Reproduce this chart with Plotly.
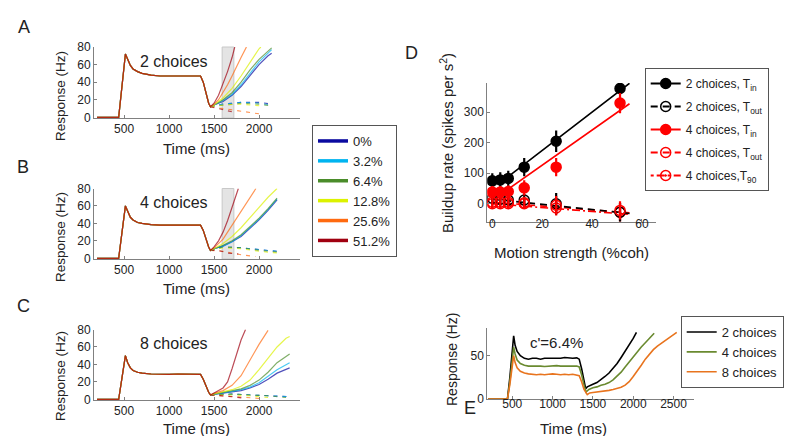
import plotly.graph_objects as go

W, H = 800, 436
FONT = "Liberation Sans, Arial, sans-serif"
AXC = "#808080"
TXT = "#222222"

# ---------------- Panels A-C : model responses ----------------
coh_labels = ["0%", "3.2%", "6.4%", "12.8%", "25.6%", "51.2%"]
coh_colors = ["#0a0aa0", "#00b4f0", "#4a8c2a", "#dcf200", "#ff6a10", "#a00010"]

pre_t = [200, 440, 515, 540, 570, 600, 650, 700, 800, 900, 1000, 1100, 1200, 1300, 1350, 1380, 1410, 1440, 1460]
A_pre = [0, 0, 72, 65, 59, 55, 52, 50, 48, 47, 47, 47.5, 47, 47, 47, 40, 28, 16, 12]
B_pre = [0, 0, 60, 53, 47, 44, 41, 40, 38.5, 38, 38, 38, 38, 38, 38, 32, 22, 13, 9]
C_pre = [0, 0, 50, 42, 36, 33, 31, 30, 29, 28.5, 28.5, 29, 28.5, 28.5, 28.5, 23, 15, 8, 5]

A_in_t = [[1500, 1600, 1700, 1800, 1900, 2000, 2100, 2140],
          [1500, 1600, 1700, 1800, 1900, 2000, 2100, 2140],
          [1500, 1600, 1700, 1800, 1900, 2000, 2100, 2140],
          [1500, 1600, 1700, 1800, 1900, 2000, 2020],
          [1500, 1550, 1600, 1650, 1700, 1750, 1800, 1860],
          [1500, 1550, 1600, 1650, 1700, 1730]]
A_in_v = [[14, 18, 25, 35, 48, 60, 70, 73],
          [14, 19, 26, 37, 50, 63, 73, 77],
          [14, 20, 28, 40, 54, 66, 76, 79],
          [14, 22, 33, 47, 63, 78, 80],
          [15, 20, 28, 37, 47, 58, 68, 80],
          [16, 25, 38, 52, 68, 80]]
A_out_t = [[1460, 1600, 1800, 2000, 2140],
           [1460, 1600, 1800, 2000, 2140],
           [1460, 1600, 1800, 2000, 2140],
           [1460, 1600, 1800, 2020],
           [1460, 1600, 1750, 1900, 2000],
           [1460, 1550, 1650, 1750]]
A_out_v = [[12, 15, 17, 17, 15],
           [12, 15, 17, 16, 14],
           [12, 14, 16, 15, 13],
           [12, 14, 15, 13],
           [12, 10, 7, 5, 4],
           [12, 10, 7, 5]]

B_in_t = [[1500, 1600, 1700, 1800, 1900, 2000, 2100, 2200],
          [1500, 1600, 1700, 1800, 1900, 2000, 2100, 2200],
          [1500, 1600, 1700, 1800, 1900, 2000, 2100, 2200],
          [1500, 1600, 1700, 1800, 1900, 2000, 2100, 2200],
          [1500, 1600, 1700, 1800, 1900, 1965],
          [1500, 1550, 1600, 1650, 1700, 1770]]
B_in_v = [[11, 14, 19, 25, 34, 44, 55, 67],
          [11, 14, 19, 26, 35, 45, 56, 68],
          [11, 15, 20, 27, 36, 46, 57, 69],
          [11, 17, 25, 35, 47, 58, 70, 80],
          [12, 22, 38, 55, 70, 80],
          [13, 20, 30, 43, 58, 80]]
B_out_t = [[1460, 1600, 1800, 2000, 2200],
           [1460, 1600, 1800, 2000, 2200],
           [1460, 1600, 1800, 2000, 2200],
           [1460, 1600, 1800, 2000, 2200],
           [1460, 1600, 1700, 1800, 1960],
           [1460, 1550, 1650, 1770]]
B_out_v = [[9, 13, 12, 10, 8],
           [9, 13, 12, 10, 8],
           [9, 13, 12, 9, 7],
           [9, 12, 11, 8, 6],
           [9, 8, 6, 4, 2],
           [9, 9, 6, 5]]

C_in_t = [[1600, 1700, 1800, 1900, 2000, 2100, 2200, 2340],
          [1600, 1700, 1800, 1900, 2000, 2100, 2200, 2340],
          [1600, 1700, 1800, 1900, 2000, 2100, 2200, 2340],
          [1600, 1700, 1800, 1900, 2000, 2100, 2200, 2300, 2340],
          [1500, 1600, 1700, 1800, 1900, 2000, 2100],
          [1500, 1550, 1600, 1650, 1700, 1750, 1800, 1850]]
C_in_v = [[7, 8, 10, 13, 17, 23, 30, 36],
          [7, 9, 11, 14, 19, 26, 34, 42],
          [8, 10, 12, 16, 22, 31, 42, 52],
          [8, 11, 15, 22, 34, 47, 60, 70, 72],
          [7, 10, 16, 27, 45, 63, 79],
          [7, 10, 13, 20, 35, 52, 68, 80]]
C_out_t = [[1460, 1700, 1900, 2100, 2340],
           [1460, 1700, 1900, 2100, 2340],
           [1460, 1700, 1900, 2100, 2300],
           [1460, 1700, 1900, 2100],
           [1460, 1600, 1800, 2000],
           [1460, 1600, 1700, 1850]]
C_out_v = [[5, 6, 5, 4, 3],
           [5, 6, 5, 4, 3],
           [5, 6, 5, 4, 2],
           [5, 5, 4, 2],
           [5, 4, 2, 1],
           [5, 4, 3, 1]]

shade_window = [1590, 1720]

# ---------------- Panel D : buildup rates ----------------
coh_d = [0, 3.2, 6.4, 12.8, 25.6, 51.2]
d2_in = [75, 78, 83, 120, 205, 378]
d2_in_err = [25, 25, 25, 30, 35, 20]
d2_out = [18, 15, 12, 12, 0, -28]
d2_out_err = [20, 20, 20, 20, 35, 30]
d4_in = [38, 38, 40, 52, 120, 330]
d4_in_err = [20, 20, 20, 25, 30, 33]
d4_out = [5, 5, 5, 3, -5, -22]
d4_out_err = [20, 20, 20, 20, 30, 30]
d4_90 = [0, 0, 0, 0, -14, -28]
d4_90_err = [15, 15, 15, 15, 25, 30]
fit_x = [0, 5, 55]
fit2_in = [75, 80, 395]
fit4_in = [38, 40, 328]
fitout_x = [0, 55]
fit2_out = [15, -32]
fit4_out = [5, -30]
fit4_90 = [0, -35]

# ---------------- Panel E : c'=6.4% ----------------
E_names = ["2 choices", "4 choices", "8 choices"]
E_colors = ["#000000", "#6a8a30", "#e8741e"]
E2_t = [200, 440, 470, 500, 517, 535, 560, 600, 650, 700, 750, 800, 850, 900, 950, 1000, 1050, 1100,
        1150, 1200, 1250, 1300, 1330, 1360, 1390, 1410, 1430, 1460, 1500, 1550, 1600, 1650, 1700, 1750,
        1800, 1850, 1900, 1950, 2000, 2040]
E2_v = [0, 0, 25, 55, 73, 62, 55, 50, 47, 46, 47, 47, 46, 47, 47, 47.5, 47, 47, 48, 47.5, 47, 47.5,
        46, 35, 20, 12, 14, 15, 17, 19, 22, 26, 30, 35, 41, 48, 55, 62, 70, 77]
E4_t = [200, 440, 470, 500, 517, 535, 560, 600, 650, 700, 750, 800, 850, 900, 950, 1000, 1050, 1100,
        1150, 1200, 1250, 1300, 1330, 1360, 1390, 1415, 1450, 1500, 1550, 1600, 1650, 1700, 1750, 1800,
        1850, 1900, 1950, 2000, 2050, 2100, 2150, 2200, 2260]
E4_v = [0, 0, 20, 45, 60, 52, 45, 41, 39, 38, 38, 38.5, 38, 37.5, 38, 38, 38.5, 38, 38, 38.5, 38, 38,
        37, 28, 16, 8, 11, 13, 14, 16, 17, 19, 22, 26, 31, 37, 43, 49, 55, 60, 65, 70, 76]
E8_t = [200, 440, 470, 500, 517, 535, 560, 600, 650, 700, 750, 800, 850, 900, 950, 1000, 1050, 1100,
        1150, 1200, 1250, 1300, 1330, 1360, 1390, 1430, 1460, 1500, 1550, 1600, 1650, 1700, 1750, 1800,
        1850, 1900, 1950, 2000, 2050, 2100, 2150, 2200, 2250, 2300, 2350, 2400, 2450, 2500, 2540]
E8_v = [0, 0, 17, 38, 50, 42, 36, 32, 30, 29, 28.5, 28, 28.5, 28, 28.5, 29, 28.5, 28, 28.5, 28, 28.5,
        28, 27, 20, 11, 5, 7, 7.5, 8, 8.5, 9.5, 10, 11, 12, 13.5, 16, 20, 26, 32, 39, 46, 52, 57, 61,
        64.5, 68, 71.5, 75, 77]

fig = go.Figure()

# Panels A-C traces
panels = [("x", "y", A_pre, A_in_t, A_in_v, A_out_t, A_out_v),
          ("x2", "y2", B_pre, B_in_t, B_in_v, B_out_t, B_out_v),
          ("x3", "y3", C_pre, C_in_t, C_in_v, C_out_t, C_out_v)]
for xa, ya, pre, in_t, in_v, out_t, out_v in panels:
    for i in range(6):
        fig.add_trace(go.Scatter(x=out_t[i], y=out_v[i], mode="lines", xaxis=xa, yaxis=ya,
                                 line=dict(color=coh_colors[i], width=1.1, dash="4px,5px"),
                                 opacity=0.7, showlegend=False, hoverinfo="skip"))
    for i in range(6):
        fig.add_trace(go.Scatter(x=pre_t + in_t[i], y=pre + in_v[i], mode="lines", xaxis=xa, yaxis=ya,
                                 line=dict(color=coh_colors[i], width=1.2),
                                 opacity=0.7, showlegend=False, hoverinfo="skip"))
for i in range(6):
    fig.add_trace(go.Scatter(x=[None], y=[None], mode="lines", name=coh_labels[i], legend="legend",
                             line=dict(color=coh_colors[i], width=3.5), xaxis="x", yaxis="y"))

# Panel D traces
def dpoints(y, err, color, symbol):
    fig.add_trace(go.Scatter(x=coh_d, y=y, mode="markers", xaxis="x4", yaxis="y4", showlegend=False,
                             marker=dict(color=color, size=10, symbol=symbol, line=dict(color=color, width=1.5)),
                             error_y=dict(type="data", array=err, visible=True, thickness=2.2, width=0, color=color)))

def dline(x, y, color, dash):
    fig.add_trace(go.Scatter(x=x, y=y, mode="lines", xaxis="x4", yaxis="y4", showlegend=False,
                             line=dict(color=color, width=1.6, dash=dash)))

dline(fitout_x, fit4_90, "#ff0000", "8px,3px,2px,3px")
dline(fitout_x, fit4_out, "#ff0000", "7px,5px")
dline(fitout_x, fit2_out, "#000000", "7px,5px")
dline(fit_x, fit2_in, "#000000", "solid")
dline(fit_x, fit4_in, "#ff0000", "solid")
dpoints(d4_90, d4_90_err, "#ff0000", "circle-open-dot")
dpoints(d2_out, d2_out_err, "#000000", "circle-open")
dpoints(d4_out, d4_out_err, "#ff0000", "circle-open")
dpoints(d2_in, d2_in_err, "#000000", "circle")
dpoints(d4_in, d4_in_err, "#ff0000", "circle")

d_leg = [("2 choices, T<sub>in</sub>", "#000000", "solid", "circle"),
         ("2 choices, T<sub>out</sub>", "#000000", "7px,5px", "circle-open"),
         ("4 choices, T<sub>in</sub>", "#ff0000", "solid", "circle"),
         ("4 choices, T<sub>out</sub>", "#ff0000", "7px,5px", "circle-open"),
         ("4 choices,T<sub>90</sub>", "#ff0000", "3px,3px,8px,3px", "circle-open-dot")]
for k, (nm, col, dash, sym) in enumerate(d_leg):
    fig.add_trace(go.Scatter(x=[None], y=[None], mode="lines+markers", name=nm, legend="legend2",
                             legendgroup="d%d" % k, xaxis="x4", yaxis="y4",
                             line=dict(color=col, width=2.2, dash=dash),
                             marker=dict(color=col, size=10, symbol=sym, line=dict(color=col, width=1.5))))

# Panel E traces
for nm, col, t, v in zip(E_names, E_colors, [E2_t, E4_t, E8_t], [E2_v, E4_v, E8_v]):
    fig.add_trace(go.Scatter(x=t, y=v, mode="lines", name=nm, legend="legend3", xaxis="x5", yaxis="y5",
                             line=dict(color=col, width=1.6)))

def px(x):
    return x / W

def py(y):
    return 1 - y / H

def xax(dom, rng, tv, anchor, stand):
    return dict(domain=dom, range=rng, tickvals=tv, anchor=anchor, showline=True, linecolor=AXC,
                linewidth=1, ticks="inside", ticklen=3, tickcolor=AXC, showgrid=False, zeroline=False,
                tickfont=dict(size=12, color=TXT), ticklabelstandoff=stand, automargin=False)

def yax(dom, rng, tv, anchor):
    return dict(domain=dom, range=rng, tickvals=tv, anchor=anchor, showline=True, linecolor=AXC,
                linewidth=1, ticks="inside", ticklen=3, tickcolor=AXC, showgrid=False, zeroline=False,
                tickfont=dict(size=12, color=TXT), automargin=False)

xdomABC = [px(86), px(292)]
xrABC = [166, 2455]
tvABC = [500, 1000, 1500, 2000]
yvABC = [0, 20, 40, 60, 80]

layout = dict(
    width=W, height=H, margin=dict(l=0, r=0, t=0, b=0),
    paper_bgcolor="white", plot_bgcolor="white",
    font=dict(family=FONT, color=TXT),
    xaxis=xax(xdomABC, xrABC, tvABC, "y", 0),
    yaxis=yax([py(110), py(39)], [-0.8, 80], yvABC, "x"),
    xaxis2=xax(xdomABC, xrABC, tvABC, "y2", 0),
    yaxis2=yax([py(251), py(180.5)], [-0.8, 80], yvABC, "x2"),
    xaxis3=xax(xdomABC, xrABC, tvABC, "y3", 0),
    yaxis3=yax([py(392), py(321.5)], [-0.8, 80], yvABC, "x3"),
    xaxis4=xax([px(479.3), px(647.7)], [-2, 65.5], [0, 20, 40, 60], "y4", -10),
    yaxis4=yax([py(214.3), py(75)], [-61, 396], [0, 100, 200, 300], "x4"),
    xaxis5=xax([px(479.3), px(686)], [190, 2754], [500, 1000, 1500, 2000, 2500], "y5", -6),
    yaxis5=yax([py(391), py(320)], [0, 82], [0, 50], "x5"),
    legend=dict(x=px(304), y=py(117), xanchor="left", yanchor="top", bgcolor="white",
                bordercolor="#555555", borderwidth=1, font=dict(size=13, color=TXT), itemwidth=30),
    legend2=dict(x=px(636.7), y=py(60), xanchor="left", yanchor="top", bgcolor="white",
                 bordercolor="#555555", borderwidth=1, font=dict(size=12, color=TXT),
                 traceorder="grouped", tracegroupgap=4),
    legend3=dict(x=px(672.7), y=py(308), xanchor="left", yanchor="top", bgcolor="white",
                 bordercolor="#555555", borderwidth=1, font=dict(size=13, color=TXT)),
    showlegend=True,
)
fig.update_layout(**layout)

for ya in ["y", "y2"]:
    fig.add_shape(type="rect", xref=ya.replace("y", "x"), yref=ya + " domain",
                  x0=shade_window[0], x1=shade_window[1], y0=0, y1=1,
                  fillcolor="rgba(205,205,205,0.55)", line=dict(color="#c8c8c8", width=1), layer="below")

# text labels: (text, x px, y px, size, angle)
annots = [("A", 16, 19, 18, 0), ("B", 15, 159, 18, 0), ("C", 15, 298, 18, 0), ("D", 403, 45, 18, 0),
          ("E", 462, 400, 18, 0),
          ("2 choices", 166, 53, 16, 0), ("4 choices", 166, 194, 16, 0), ("8 choices", 166, 335, 16, 0),
          ("c'=6.4%", 548, 334, 15, 0),
          ("Time (ms)", 188, 140, 15, 0), ("Time (ms)", 188, 280, 15, 0), ("Time (ms)", 188, 420, 15, 0),
          ("Response (Hz)", 52, 88, 13.5, -90), ("Response (Hz)", 52, 229, 13.5, -90),
          ("Response (Hz)", 52, 368, 13.5, -90),
          ("Motion strength (%coh)", 563, 244, 15, 0),
          ("Buildup rate (spikes per s<sup>2</sup>)", 438, 135, 15, -90),
          ("Time (ms)", 565, 420, 15, 0), ("Response (Hz)", 444, 352, 14, -90)]
for txt, x, y, s, ang in annots:
    fig.add_annotation(text=txt, x=px(x), y=py(y), xref="paper", yref="paper", showarrow=False,
                       xanchor="center", yanchor="middle", textangle=ang,
                       font=dict(size=s, color=TXT, family=FONT))

fig.write_html("out.html")
